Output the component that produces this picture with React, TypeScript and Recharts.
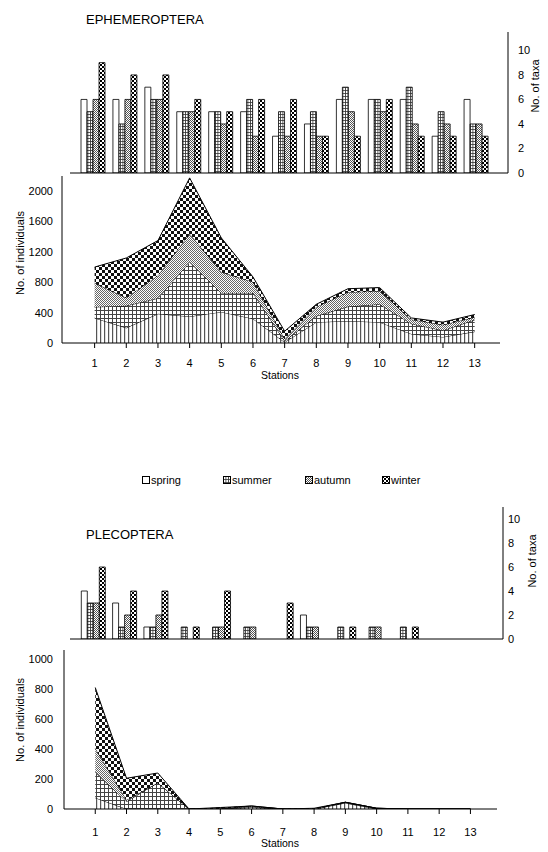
import React from 'react';
import { BarChart, Bar, AreaChart, Area, XAxis, YAxis } from 'recharts';

const stations = [1, 2, 3, 4, 5, 6, 7, 8, 9, 10, 11, 12, 13];
const seasons = ['spring', 'summer', 'autumn', 'winter'];

// Ephemeroptera - number of taxa
const ephTaxaSpring = [6, 6, 7, 5, 5, 5, 3, 4, 6, 6, 6, 3, 6];
const ephTaxaSummer = [5, 4, 6, 5, 5, 6, 5, 5, 7, 6, 7, 5, 4];
const ephTaxaAutumn = [6, 6, 6, 5, 4, 3, 3, 3, 5, 5, 4, 4, 4];
const ephTaxaWinter = [9, 8, 8, 6, 5, 6, 6, 3, 3, 6, 3, 3, 3];

// Ephemeroptera - number of individuals (stacked)
const ephIndSpring = [330, 200, 385, 350, 410, 320, 10, 275, 290, 275, 120, 80, 150];
const ephIndSummer = [145, 290, 205, 715, 250, 340, 15, 80, 190, 235, 135, 85, 155];
const ephIndAutumn = [315, 105, 300, 375, 275, 145, 30, 120, 190, 175, 55, 75, 35];
const ephIndWinter = [210, 525, 460, 735, 450, 65, 100, 35, 45, 45, 20, 35, 35];

// Plecoptera - number of taxa
const pleTaxaSpring = [4, 3, 1, 0, 0, 0, 0, 2, 0, 0, 0, 0, 0];
const pleTaxaSummer = [3, 1, 1, 1, 1, 1, 0, 1, 1, 1, 1, 0, 0];
const pleTaxaAutumn = [3, 2, 2, 0, 1, 1, 0, 1, 0, 1, 0, 0, 0];
const pleTaxaWinter = [6, 4, 4, 1, 4, 0, 3, 0, 1, 0, 1, 0, 0];

// Plecoptera - number of individuals (stacked)
const pleIndSpring = [75, 0, 0, 0, 0, 10, 0, 0, 40, 0, 0, 0, 0];
const pleIndSummer = [170, 50, 175, 0, 5, 5, 0, 0, 5, 5, 0, 0, 0];
const pleIndAutumn = [160, 10, 0, 0, 0, 5, 0, 0, 0, 0, 0, 0, 0];
const pleIndWinter = [405, 145, 65, 0, 5, 0, 0, 5, 0, 0, 0, 0, 0];

const taxaTicks = [0, 2, 4, 6, 8, 10];
const ephIndTicks = [0, 400, 800, 1200, 1600, 2000];
const pleIndTicks = [0, 200, 400, 600, 800, 1000];

const build = (a: number[], b: number[], c: number[], d: number[]) =>
  stations.map((station, i) => ({ station, spring: a[i], summer: b[i], autumn: c[i], winter: d[i] }));

const ephTaxa = build(ephTaxaSpring, ephTaxaSummer, ephTaxaAutumn, ephTaxaWinter);
const ephInd = build(ephIndSpring, ephIndSummer, ephIndAutumn, ephIndWinter);
const pleTaxa = build(pleTaxaSpring, pleTaxaSummer, pleTaxaAutumn, pleTaxaWinter);
const pleInd = build(pleIndSpring, pleIndSummer, pleIndAutumn, pleIndWinter);

const FONT = '"Liberation Sans", Arial, sans-serif';
const tickStyle = { fontSize: 11, fill: '#000', fontFamily: FONT };

function Patterns({ id }: { id: string }) {
  return (
    <defs>
      {/* area fills */}
      <pattern id={`${id}-a-spring`} width="4" height="4" patternUnits="userSpaceOnUse">
        <rect width="4" height="4" fill="#fff" />
        <rect x="0" width="1.2" height="4" fill="#555" />
      </pattern>
      <pattern id={`${id}-a-summer`} width="4" height="4" patternUnits="userSpaceOnUse">
        <rect width="4" height="4" fill="#fff" />
        <rect x="0" width="1" height="4" fill="#444" />
        <rect y="0" width="4" height="1" fill="#444" />
      </pattern>
      <pattern id={`${id}-a-autumn`} width="2" height="2" patternUnits="userSpaceOnUse">
        <rect width="2" height="2" fill="#fff" />
        <rect width="1" height="1" fill="#666" />
        <rect x="1" y="1" width="1" height="1" fill="#666" />
      </pattern>
      <pattern id={`${id}-a-winter`} width="6" height="6" patternUnits="userSpaceOnUse">
        <rect width="6" height="6" fill="#fff" />
        <rect width="3" height="3" fill="#111" />
        <rect x="3" y="3" width="3" height="3" fill="#111" />
      </pattern>
      {/* bar fills */}
      <pattern id={`${id}-b-summer`} width="2.5" height="3" patternUnits="userSpaceOnUse">
        <rect width="2.5" height="3" fill="#fff" />
        <rect x="0" width="0.8" height="3" fill="#333" />
        <rect y="0" width="2.5" height="0.8" fill="#333" />
      </pattern>
      <pattern id={`${id}-b-autumn`} width="2" height="2" patternUnits="userSpaceOnUse">
        <rect width="2" height="2" fill="#fff" />
        <rect width="1" height="1" fill="#555" />
        <rect x="1" y="1" width="1" height="1" fill="#555" />
      </pattern>
      <pattern id={`${id}-b-winter`} width="4" height="4" patternUnits="userSpaceOnUse">
        <rect width="4" height="4" fill="#fff" />
        <rect width="2" height="2" fill="#000" />
        <rect x="2" y="2" width="2" height="2" fill="#000" />
      </pattern>
    </defs>
  );
}

interface TaxaProps {
  id: string;
  data: typeof ephTaxa;
  top: number;
  marginTop: number;
  height: number;
  marginRight: number;
  domainMax: number;
  tickMargin: number;
  padLeft: number;
  padRight: number;
}

function TaxaChart({ id, data, top, marginTop, height, marginRight, domainMax, tickMargin, padLeft, padRight }: TaxaProps) {
  const barFill: Record<string, string> = {
    spring: '#fff',
    summer: `url(#${id}-b-summer)`,
    autumn: `url(#${id}-b-autumn)`,
    winter: `url(#${id}-b-winter)`,
  };
  return (
    <div style={{ position: 'absolute', left: 0, top }}>
      <BarChart
        width={548}
        height={height}
        data={data}
        margin={{ top: marginTop, right: marginRight, bottom: 6, left: 70 }}
        barGap={0}
        barSize={6}
      >
        <Patterns id={id} />
        <XAxis
          dataKey="station"
          height={1}
          tick={false}
          tickLine={false}
          axisLine={{ stroke: '#000', strokeWidth: 1 }}
          padding={{ left: padLeft, right: padRight }}
        />
        <YAxis
          orientation="right"
          width={30}
          domain={[0, domainMax]}
          ticks={taxaTicks}
          allowDataOverflow
          tickLine={false}
          tickSize={0}
          tickMargin={tickMargin}
          tick={tickStyle}
          axisLine={{ stroke: '#000', strokeWidth: 1 }}
        />
        {seasons.map((s) => (
          <Bar key={s} dataKey={s} fill={barFill[s]} stroke="#000" strokeWidth={0.8} isAnimationActive={false} />
        ))}
      </BarChart>
    </div>
  );
}

interface IndProps {
  id: string;
  data: typeof ephInd;
  top: number;
  marginTop: number;
  height: number;
  yWidth: number;
  marginRight: number;
  yMax: number;
  yTicks: number[];
  xDomain: [number, number];
  xTickMargin: number;
  yTickMargin: number;
}

function IndChart({ id, data, top, marginTop, height, yWidth, marginRight, yMax, yTicks, xDomain, xTickMargin, yTickMargin }: IndProps) {
  return (
    <div style={{ position: 'absolute', left: 0, top }}>
      <AreaChart
        width={548}
        height={height}
        data={data}
        margin={{ top: marginTop, right: marginRight, bottom: 0, left: 0 }}
      >
        <Patterns id={id} />
        <XAxis
          dataKey="station"
          type="number"
          domain={xDomain}
          allowDataOverflow
          ticks={stations}
          interval={0}
          height={30}
          tickSize={5}
          tickMargin={xTickMargin}
          tick={tickStyle}
          tickLine={{ stroke: '#000' }}
          axisLine={{ stroke: '#000', strokeWidth: 1 }}
        />
        <YAxis
          width={yWidth}
          domain={[0, yMax]}
          ticks={yTicks}
          allowDataOverflow
          tickLine={false}
          tickSize={0}
          tickMargin={yTickMargin}
          tick={tickStyle}
          axisLine={{ stroke: '#000', strokeWidth: 1 }}
        />
        {seasons.map((s) => (
          <Area
            key={s}
            type="linear"
            dataKey={s}
            stackId="1"
            stroke="#000"
            strokeWidth={1}
            fill={`url(#${id}-a-${s})`}
            fillOpacity={1}
            dot={false}
            activeDot={false}
            isAnimationActive={false}
          />
        ))}
      </AreaChart>
    </div>
  );
}

function VText({ x, y, children }: { x: number; y: number; children: React.ReactNode }) {
  return (
    <div
      style={{
        position: 'absolute',
        left: x,
        top: y,
        transform: 'translate(-50%, -50%) rotate(-90deg)',
        whiteSpace: 'nowrap',
        fontSize: 11,
        lineHeight: '12px',
      }}
    >
      {children}
    </div>
  );
}

function CText({ x, y, children, size = 11 }: { x: number; y: number; children: React.ReactNode; size?: number }) {
  return (
    <div
      style={{
        position: 'absolute',
        left: x,
        top: y,
        transform: 'translate(-50%, -50%)',
        whiteSpace: 'nowrap',
        fontSize: size,
        lineHeight: `${size + 1}px`,
      }}
    >
      {children}
    </div>
  );
}

function LegendSwatch({ season }: { season: string }) {
  return (
    <svg width={8} height={8} style={{ display: 'block' }}>
      <Patterns id={`lg-${season}`} />
      <rect
        x={0.5}
        y={0.5}
        width={7}
        height={7}
        fill={season === 'spring' ? '#fff' : `url(#lg-${season}-b-${season})`}
        stroke="#000"
        strokeWidth={1}
      />
    </svg>
  );
}

const legendX = [142, 223, 305, 382];

export default function App() {
  return (
    <div style={{ position: 'relative', width: 548, height: 852, background: '#fff', fontFamily: FONT, color: '#000' }}>
      <style>{'body{margin:0}'}</style>

      {/* EPHEMEROPTERA */}
      <div style={{ position: 'absolute', left: 86, top: 12, fontSize: 13, lineHeight: '15px' }}>EPHEMEROPTERA</div>
      <TaxaChart
        id="et"
        data={ephTaxa}
        top={0}
        marginTop={32}
        height={180}
        marginRight={10}
        domainMax={11.5}
        tickMargin={10}
        padLeft={7}
        padRight={16}
      />
      <IndChart
        id="ei"
        data={ephInd}
        top={150}
        marginTop={26}
        height={223}
        yWidth={62}
        marginRight={48}
        yMax={2200}
        yTicks={ephIndTicks}
        xDomain={[-0.03, 13.8]}
        xTickMargin={11}
        yTickMargin={9}
      />
      <VText x={535} y={86}>No. of taxa</VText>
      <VText x={20} y={253}>No. of individuals</VText>
      <CText x={280} y={376} size={10.5}>Stations</CText>

      {/* legend */}
      {seasons.map((s, i) => (
        <div
          key={s}
          style={{ position: 'absolute', left: legendX[i], top: 474, display: 'flex', alignItems: 'center', fontSize: 11, lineHeight: '12px' }}
        >
          <LegendSwatch season={s} />
          <span style={{ marginLeft: 1 }}>{s}</span>
        </div>
      ))}

      {/* PLECOPTERA */}
      <div style={{ position: 'absolute', left: 86, top: 527, fontSize: 13, lineHeight: '15px' }}>PLECOPTERA</div>
      <TaxaChart
        id="pt"
        data={pleTaxa}
        top={480}
        marginTop={27}
        height={166}
        marginRight={15}
        domainMax={11}
        tickMargin={5}
        padLeft={7.3}
        padRight={18.7}
      />
      <IndChart
        id="pi"
        data={pleInd}
        top={620}
        marginTop={30}
        height={219}
        yWidth={64}
        marginRight={51}
        yMax={1060}
        yTicks={pleIndTicks}
        xDomain={[0, 13.85]}
        xTickMargin={14}
        yTickMargin={11}
      />
      <VText x={532} y={561}>No. of taxa</VText>
      <VText x={20} y={720}>No. of individuals</VText>
      <CText x={280} y={844} size={10.5}>Stations</CText>
    </div>
  );
}
